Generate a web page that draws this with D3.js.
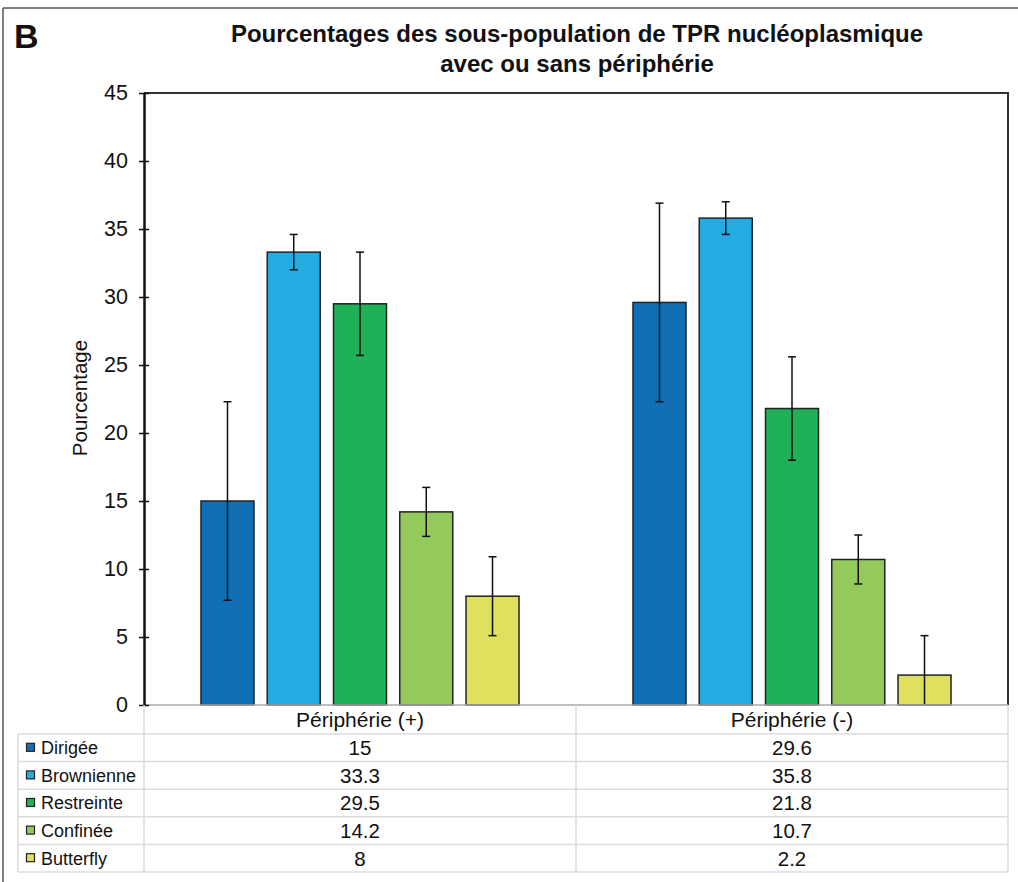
<!DOCTYPE html>
<html>
<head>
<meta charset="utf-8">
<script src="https://cdn.jsdelivr.net/npm/d3@7"></script>
<style>
  html, body { margin: 0; padding: 0; background: #fff; }
  svg { display: block; }
  text { font-family: "Liberation Sans", Arial, Helvetica, sans-serif; fill: #111; }
</style>
</head>
<body>
<svg id="chart" width="1018" height="882"></svg>
<script>
// Groups (x categories) and sub-populations (series)
const groups = ["Périphérie (+)", "Périphérie (-)"];
const series = ["Dirigée", "Brownienne", "Restreinte", "Confinée", "Butterfly"];
const colors = ["#1170b5", "#24ace2", "#1eb157", "#94ca5c", "#dee05e"];

// Percentages per series, one value per group
const dirigee    = [15, 29.6];
const brownienne = [33.3, 35.8];
const restreinte = [29.5, 21.8];
const confinee   = [14.2, 10.7];
const butterfly  = [8, 2.2];

// Error bar half-widths per series, one value per group
const errDirigee    = [7.3, 7.3];
const errBrownienne = [1.3, 1.2];
const errRestreinte = [3.8, 3.8];
const errConfinee   = [1.8, 1.8];
const errButterfly  = [2.9, 2.9];

const yTicks = [0, 5, 10, 15, 20, 25, 30, 35, 40, 45];

const values = [dirigee, brownienne, restreinte, confinee, butterfly];
const errors = [errDirigee, errBrownienne, errRestreinte, errConfinee, errButterfly];

const svg = d3.select("#chart");

const plotLeft = 144, plotRight = 1008, plotTop = 93, plotBottom = 705;

const y = d3.scaleLinear().domain([0, 45]).range([plotBottom, plotTop]);
const x0 = d3.scaleBand().domain(groups).range([plotLeft, plotRight]).padding(0);
const x1 = d3.scaleBand().domain(series).range([0, x0.bandwidth()])
  .paddingInner(0.2).paddingOuter(0.86);

// Outer figure frame (top and left edges)
svg.append("line").attr("x1", 3).attr("x2", 1018).attr("y1", 8).attr("y2", 8)
  .attr("stroke", "#555").attr("stroke-width", 1.5);
svg.append("line").attr("x1", 3).attr("x2", 3).attr("y1", 8).attr("y2", 882)
  .attr("stroke", "#555").attr("stroke-width", 1.5);

// Panel letter and title
svg.append("text").attr("x", 14).attr("y", 48)
  .attr("font-size", 34).attr("font-weight", "bold").text("B");
const title = svg.append("text").attr("text-anchor", "middle")
  .attr("font-size", 24).attr("font-weight", "bold");
title.append("tspan").attr("x", 577).attr("y", 42)
  .text("Pourcentages des sous-population de TPR nucléoplasmique");
title.append("tspan").attr("x", 577).attr("y", 72)
  .text("avec ou sans périphérie");

// Plot frame: top and right edges
svg.append("path")
  .attr("d", `M${plotLeft},${plotTop}H${plotRight}V${plotBottom}`)
  .attr("fill", "none").attr("stroke", "#333").attr("stroke-width", 2);

// Bars and error bars
const gGroups = svg.append("g").selectAll("g").data(groups).join("g")
  .attr("transform", d => `translate(${x0(d)},0)`);

gGroups.each(function(g, gi) {
  const sel = d3.select(this);
  series.forEach((s, si) => {
    const v = values[si][gi];
    sel.append("rect")
      .attr("x", x1(s)).attr("width", x1.bandwidth())
      .attr("y", y(v)).attr("height", y(0) - y(v))
      .attr("fill", colors[si]).attr("stroke", "#222").attr("stroke-width", 1.5);
  });
  series.forEach((s, si) => {
    const v = values[si][gi], e = errors[si][gi];
    const cx = x1(s) + x1.bandwidth() / 2;
    const hi = y(v + e), lo = y(Math.max(0, v - e));
    sel.append("line").attr("x1", cx).attr("x2", cx).attr("y1", hi).attr("y2", lo)
      .attr("stroke", "#111").attr("stroke-width", 1.5);
    sel.append("line").attr("x1", cx - 4).attr("x2", cx + 4).attr("y1", hi).attr("y2", hi)
      .attr("stroke", "#111").attr("stroke-width", 1.5);
    if (v - e > 0) {
      sel.append("line").attr("x1", cx - 4).attr("x2", cx + 4).attr("y1", lo).attr("y2", lo)
        .attr("stroke", "#111").attr("stroke-width", 1.5);
    }
  });
});

// Bottom baseline
svg.append("line").attr("x1", plotLeft).attr("x2", plotRight).attr("y1", plotBottom).attr("y2", plotBottom)
  .attr("stroke", "#aaa").attr("stroke-width", 1.5);

// Y axis with crossing ticks
const yAxis = d3.axisLeft(y).tickValues(yTicks).tickSizeInner(5).tickSizeOuter(0).tickPadding(12);
const ga = svg.append("g").attr("transform", `translate(${plotLeft},0)`).call(yAxis);
ga.select(".domain").attr("stroke", "#111").attr("stroke-width", 2.5);
ga.selectAll(".tick line").attr("x2", 5).attr("x1", -5).attr("stroke", "#111").attr("stroke-width", 1.5);
ga.selectAll(".tick text").attr("font-size", 21.5).attr("x", -16)
  .attr("font-family", "'Liberation Sans', Arial, sans-serif").attr("fill", "#111");

// Y axis title
svg.append("text")
  .attr("transform", `translate(87,398) rotate(-90)`)
  .attr("text-anchor", "middle").attr("font-size", 20.5).text("Pourcentage");

// Data table
const tableLeft = 18;
const headerTop = plotBottom, rowTop = 734, rowH = 27.6;
const grid = svg.append("g").attr("stroke", "#dcdcdc").attr("stroke-width", 1.5);

// horizontal rules
grid.append("line").attr("x1", tableLeft).attr("x2", plotRight).attr("y1", rowTop).attr("y2", rowTop);
series.forEach((s, i) => {
  const yy = rowTop + rowH * (i + 1);
  grid.append("line").attr("x1", tableLeft).attr("x2", plotRight).attr("y1", yy).attr("y2", yy);
});
// vertical rules
const tableBottom = rowTop + rowH * series.length;
grid.append("line").attr("x1", tableLeft).attr("x2", tableLeft).attr("y1", rowTop).attr("y2", tableBottom);
grid.append("line").attr("x1", plotLeft).attr("x2", plotLeft).attr("y1", headerTop).attr("y2", tableBottom);
groups.forEach(g => {
  const xx = x0(g) + x0.bandwidth();
  grid.append("line").attr("x1", xx).attr("x2", xx).attr("y1", headerTop).attr("y2", tableBottom);
});

// header labels
groups.forEach(g => {
  svg.append("text").attr("x", x0(g) + x0.bandwidth() / 2).attr("y", (headerTop + rowTop) / 2)
    .attr("dy", "0.36em").attr("text-anchor", "middle").attr("font-size", 21).text(g);
});

// rows: legend key, name, values
series.forEach((s, si) => {
  const cy = rowTop + rowH * si + rowH / 2;
  svg.append("rect").attr("x", 26.5).attr("y", cy - 4.5).attr("width", 8).attr("height", 8)
    .attr("fill", colors[si]).attr("stroke", "#222").attr("stroke-width", 1.2);
  svg.append("text").attr("x", 41).attr("y", cy).attr("dy", "0.36em")
    .attr("font-size", 18).text(s);
  groups.forEach((g, gi) => {
    svg.append("text").attr("x", x0(g) + x0.bandwidth() / 2).attr("y", cy).attr("dy", "0.36em")
      .attr("text-anchor", "middle").attr("font-size", 20.5).text(values[si][gi]);
  });
});
</script>
</body>
</html>
